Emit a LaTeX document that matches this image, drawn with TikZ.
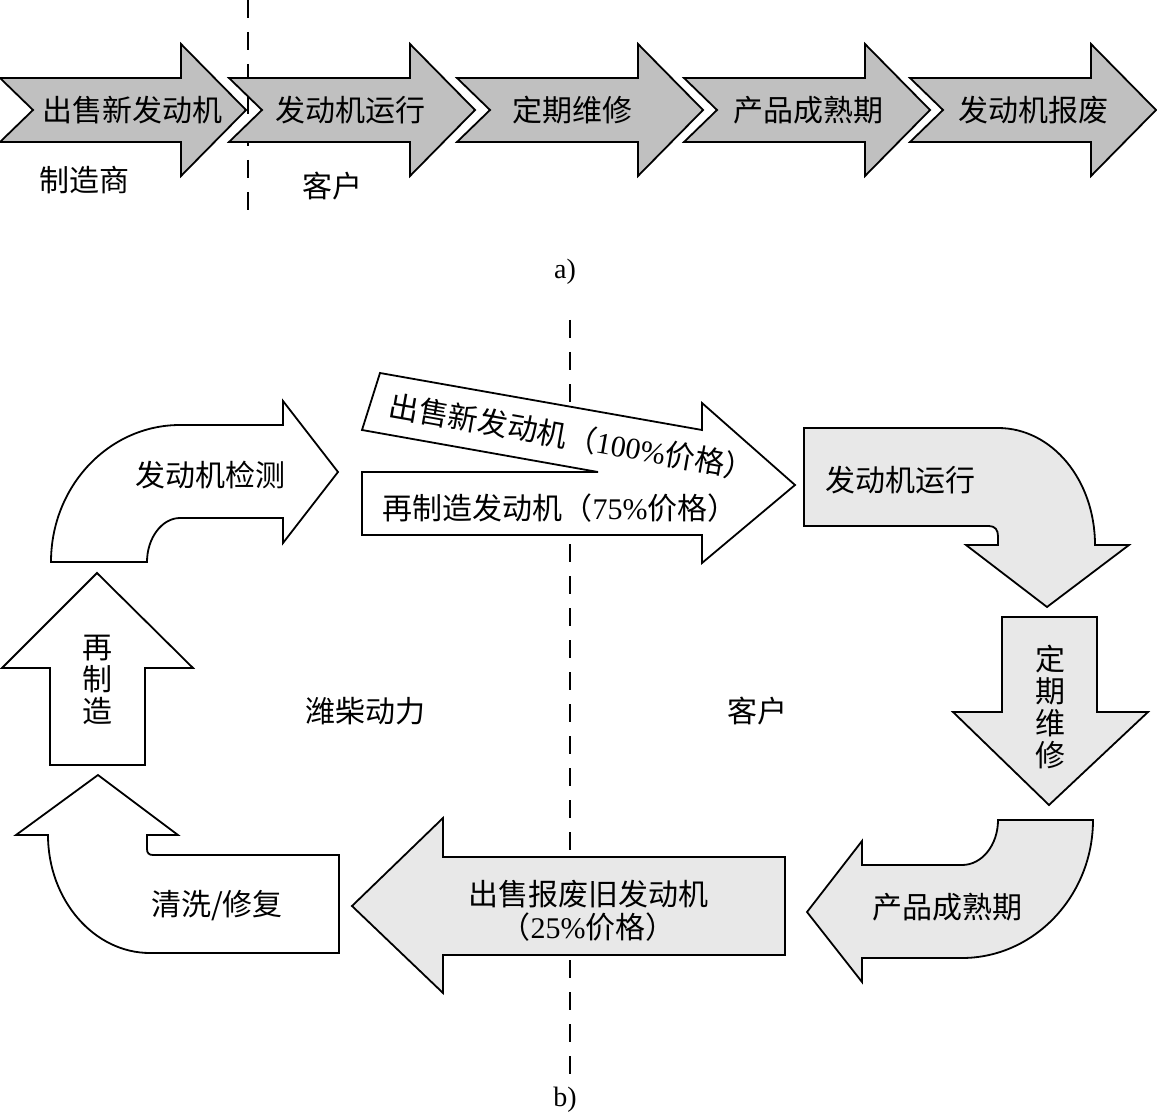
\documentclass[tikz,border=0pt]{standalone}
\usepackage{fontspec}
\setmainfont{Liberation Serif}
\newfontfamily\cjk{Noto Sans CJK SC}
\definecolor{chevgray}{RGB}{192,192,192}
\definecolor{softgray}{RGB}{232,232,232}
\begin{document}
\begin{tikzpicture}[x=1pt,y=-1pt]
\tikzset{
  chev/.style={draw=black, line width=1.8pt, fill=chevgray},
  wshape/.style={draw=black, line width=1.8pt, fill=white},
  gshape/.style={draw=black, line width=1.8pt, fill=softgray},
  lbl/.style={font=\cjk\fontsize{30}{33}\selectfont, inner sep=0pt, align=center},
  vlbl/.style={font=\cjk\fontsize{30}{32}\selectfont, inner sep=0pt, align=center},
  captxt/.style={font=\fontsize{28}{30}\selectfont, inner sep=0pt},
  divider/.style={dash pattern=on 18pt off 14pt, line width=1.5pt}
}
\useasboundingbox (0,0) rectangle (1157,1115);
% ---------- a) ----------
\coordinate (da) at (248,0);
\coordinate (db) at (248,215);
\draw[divider] (da) -- (db);
\foreach \x in {0,229,457,684,910}{
  \draw[chev] ({\x},78) -- ({\x+181},78) -- ({\x+181},44) -- ({\x+246},110)
     -- ({\x+181},176) -- ({\x+181},142) -- ({\x},142) -- ({\x+33},110) -- cycle;
}
\node[lbl] (t1) at (132,110) {出售新发动机};
\node[lbl] (t2) at (350,110) {发动机运行};
\node[lbl] (t3) at (572,110) {定期维修};
\node[lbl] (t4) at (808,110) {产品成熟期};
\node[lbl] (t5) at (1033,110) {发动机报废};
\node[lbl] (mfr) at (84,180) {制造商};
\node[lbl] (cust1) at (332,186) {客户};
\node[captxt] (capa) at (565,272) {a)};
% ---------- b) ----------
\coordinate (dc) at (570,320);
\coordinate (dd) at (570,1078);
\draw[divider] (dc) -- (dd);
% engine inspection
\draw[wshape] (51,562) .. controls (51,486) and (109,425) .. (180,425)
   -- (283,425) -- (283,401) -- (338,472) -- (283,543) -- (283,518) -- (180,518)
   .. controls (162,518) and (147,538) .. (147,562) -- cycle;
\node[lbl] (insp) at (210,475) {发动机检测};
% remanufacture up arrow
\draw[wshape] (97,573) -- (193,668) -- (145,668) -- (145,765) -- (50,765) -- (50,668) -- (2,668) -- cycle;
\node[vlbl] (reman) at (97,680) {再\\制\\造};
% cleaning / repair
\draw[wshape] (98,775) -- (178,835) -- (147,835) -- (147,849)
   .. controls (147,853) and (149,855) .. (153,855) -- (339,855) -- (339,953) -- (150,953)
   .. controls (94,953) and (48,900) .. (48,835) -- (16,835) -- cycle;
\node[lbl] (clean) at (217,906) {清洗/修复};
% combined sale arrows
\draw[wshape] (380,373) -- (702,430) -- (702,403) -- (795,485) -- (702,563) -- (702,535)
   -- (362,535) -- (362,472) -- (598,472) -- (362,430) -- cycle;
\node[lbl, rotate=-10] (sellnew) at (572,437) {出售新发动机（{\rmfamily 100\%}价格）};
\node[lbl] (sellre) at (560,508) {再制造发动机（{\rmfamily 75\%}价格）};
% engine running
\draw[gshape] (804,428) -- (998,428) .. controls (1052,428) and (1095,480) .. (1095,545)
   -- (1129,545) -- (1047,607) -- (966,545) -- (998,545) -- (998,536)
   .. controls (998,530) and (995,526) .. (989,526) -- (804,526) -- cycle;
\node[lbl] (run) at (900,480) {发动机运行};
% periodic maintenance
\draw[gshape] (1002,617) -- (1097,617) -- (1097,712) -- (1148,712) -- (1049,805) -- (953,712) -- (1002,712) -- cycle;
\node[vlbl] (maint) at (1050,707) {定\\期\\维\\修};
% product maturity
\draw[gshape] (807,912) -- (862,841) -- (862,865) -- (962,865)
   .. controls (982,865) and (998,845) .. (998,820) -- (1093,820)
   .. controls (1093,896) and (1034,958) .. (962,958) -- (862,958) -- (862,982) -- cycle;
\node[lbl] (mature) at (947,907) {产品成熟期};
% sell scrapped engine
\draw[gshape] (352,906) -- (443,818) -- (443,857) -- (785,857) -- (785,955) -- (443,955) -- (443,993) -- cycle;
\node[lbl] (scrap) at (588,911) {出售报废旧发动机\\（{\rmfamily 25\%}价格）};
\node[lbl] (weichai) at (365,711) {潍柴动力};
\node[lbl] (cust2) at (757,711) {客户};
\node[captxt] (capb) at (565,1100) {b)};
\end{tikzpicture}
\end{document}
